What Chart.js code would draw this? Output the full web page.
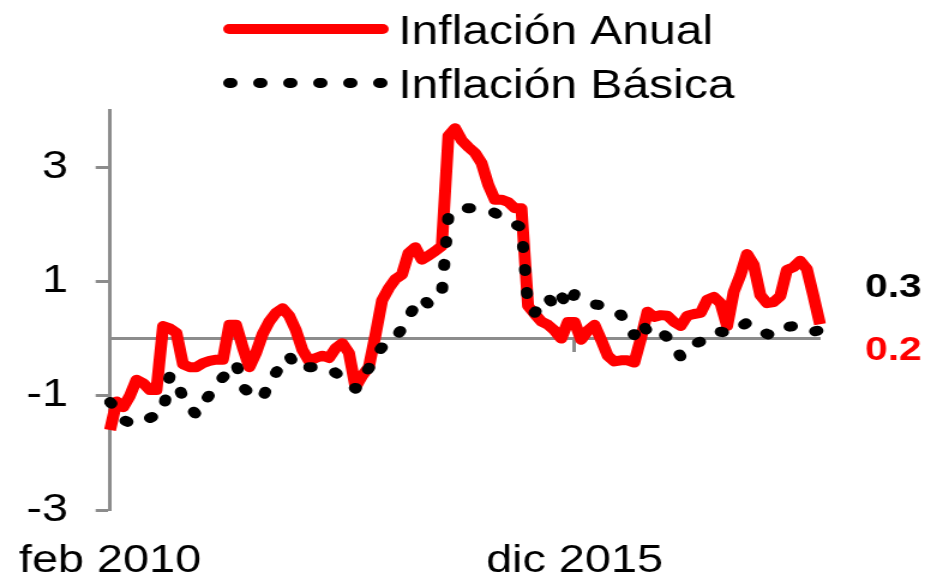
<!DOCTYPE html>
<html>
<head>
<meta charset="utf-8">
<script src="https://cdn.jsdelivr.net/npm/chart.js@4.4.1/dist/chart.umd.min.js"></script>
<style>
html, body { margin: 0; padding: 0; background: #fff; overflow: hidden; }
/* the reference is stretched sideways, so the canvas is drawn narrower and scaled */
#wrap { position: absolute; left: 0; top: 0; width: 791px; height: 578px; transform: scaleX(1.19975); transform-origin: 0 0; }
</style>
</head>
<body>
<div id="wrap"><canvas id="chart"></canvas></div>
<script>
var monthNames = ['ene', 'feb', 'mar', 'abr', 'may', 'jun', 'jul', 'ago', 'sep', 'oct', 'nov', 'dic'];
var firstYear = 2010;
var firstMonth = 1; // feb
var nMonths = 108;  // feb 2010 - ene 2019

var labels = [];
for (var i = 0; i < nMonths; i++) {
    var m = firstMonth + i;
    labels.push(monthNames[m % 12] + ' ' + (firstYear + Math.floor(m / 12)));
}

var anual = [
    -1.6, -1.1, -1.2, -1.0, -0.72, -0.78, -0.9, -0.9, 0.22, 0.18,
    0.1, -0.45, -0.5, -0.5, -0.43, -0.39, -0.37, -0.37, 0.24, 0.24,
    -0.15, -0.5, -0.25, 0.08, 0.3, 0.45, 0.53, 0.4, 0.15, -0.2,
    -0.39, -0.34, -0.3, -0.34, -0.17, -0.08, -0.25, -0.85, -0.65, -0.5,
    0.06, 0.67, 0.88, 1.04, 1.12, 1.5, 1.6, 1.38, 1.45, 1.53,
    1.62, 3.55, 3.68, 3.47, 3.35, 3.25, 3.07, 2.69, 2.43, 2.43,
    2.39, 2.28, 2.28, 0.57, 0.43, 0.3, 0.24, 0.14, 0.0, 0.29,
    0.29, -0.02, 0.14, 0.24, -0.02, -0.3, -0.4, -0.38, -0.38, -0.42,
    0.0, 0.47, 0.38, 0.41, 0.4, 0.29, 0.22, 0.4, 0.43, 0.45,
    0.68, 0.73, 0.62, 0.22, 0.82, 1.11, 1.48, 1.29, 0.76, 0.62,
    0.64, 0.74, 1.2, 1.25, 1.36, 1.22, 0.75, 0.25
];
var basica = [
    -1.11, -1.25, -1.42, -1.48, -1.5, -1.46, -1.39, -1.34, -1.28, -0.65,
    -0.7, -1.05, -1.2, -1.33, -1.15, -0.98, -0.85, -0.68, -0.55, -0.43,
    -0.85, -0.95, -1.0, -1.05, -0.75, -0.6, -0.4, -0.3, -0.5, -0.55,
    -0.5, -0.5, -0.52, -0.52, -0.6, -0.68, -0.75, -0.88, -0.68, -0.52,
    -0.3, -0.15, -0.08, 0.0, 0.18, 0.38, 0.58, 0.72, 0.6, 0.72,
    0.8, 2.15, 2.25, 2.28, 2.28, 2.28, 2.28, 2.25, 2.2, 2.12,
    2.05, 2.0, 1.95, 0.55, 0.45, 0.62, 0.73, 0.55, 0.75, 0.55,
    0.78, 0.7, 0.65, 0.6, 0.58, 0.52, 0.45, 0.42, 0.2, 0.06,
    0.3, 0.12, 0.05, 0.12, 0.02, -0.1, -0.32, -0.2, -0.1, -0.05,
    -0.05, 0.05, 0.12, 0.1, 0.1, 0.2, 0.28, 0.25, 0.15, 0.08,
    0.05, 0.15, 0.2, 0.22, 0.15, 0.12, 0.12, 0.15
];

var yTicks = [-3, -1, 1, 3];
var xLabelIdx = [0, 70];
var lastBasica = '0.3';
var lastAnual = '0.2';

var axisGray = '#8c8c8c';
var fontFamily = '"Liberation Sans", Arial, sans-serif';

// legend and last values, drawn on top of the plot
var extras = {
    id: 'extras',
    afterDraw: function(chart) {
        var ctx = chart.ctx;
        var ds = chart.data.datasets;
        ctx.save();
        var rows = [
            { d: ds[0], y: 29, base: 44, dash: [] },
            { d: ds[1], y: 83, base: 98, dash: [2, 23] }
        ];
        rows.forEach(function(r) {
            ctx.beginPath();
            ctx.strokeStyle = r.d.borderColor;
            ctx.lineWidth = r.d.borderWidth;
            ctx.lineCap = 'round';
            ctx.setLineDash(r.dash);
            ctx.moveTo(191, r.y);
            ctx.lineTo(319, r.y);
            ctx.stroke();
            ctx.setLineDash([]);
            ctx.fillStyle = '#000';
            ctx.font = '40px ' + fontFamily;
            ctx.textBaseline = 'alphabetic';
            ctx.textAlign = 'left';
            ctx.fillText(r.d.label, 332, r.base);
        });

        ctx.font = 'bold 34px ' + fontFamily;
        ctx.fillStyle = ds[1].borderColor;
        ctx.fillText(lastBasica, 721, 297);
        ctx.fillStyle = ds[0].borderColor;
        ctx.fillText(lastAnual, 721, 360);
        ctx.restore();
    }
};

var ctx = document.getElementById('chart').getContext('2d');
window.inflChart = new Chart(ctx, {
    type: 'line',
    data: {
        labels: labels,
        datasets: [{
            label: 'Inflación Anual',
            data: anual,
            borderColor: '#ff0000',
            borderWidth: 10,
            borderJoinStyle: 'round',
            pointRadius: 0,
            tension: 0,
            fill: false,
            order: 2
        }, {
            label: 'Inflación Básica',
            data: basica,
            borderColor: '#000000',
            borderWidth: 10,
            borderDash: [2, 21],
            borderCapStyle: 'round',
            borderJoinStyle: 'round',
            pointRadius: 0,
            tension: 0,
            fill: false,
            order: 1
        }]
    },
    options: {
        responsive: true,
        maintainAspectRatio: false,
        animation: false,
        layout: { padding: { top: 110, right: 107.5, bottom: 0, left: 0 } },
        plugins: {
            legend: { display: false },
            tooltip: { enabled: false }
        },
        scales: {
            x: {
                type: 'category',
                position: { y: 0 },
                offset: false,
                grid: {
                    display: true,
                    drawOnChartArea: false,
                    drawTicks: true,
                    tickLength: 12,
                    tickWidth: 3,
                    tickColor: function(c) {
                        return c.index === xLabelIdx[1] ? axisGray : 'rgba(0,0,0,0)';
                    }
                },
                border: { display: true, color: axisGray, width: 3 },
                ticks: { display: false, autoSkip: false }
            },
            x2: {
                type: 'category',
                position: 'bottom',
                offset: false,
                grid: { display: false, drawTicks: false },
                border: { display: false },
                ticks: {
                    autoSkip: false,
                    minRotation: 0,
                    maxRotation: 0,
                    padding: 28,
                    color: '#000',
                    font: { family: fontFamily, size: 39 },
                    callback: function(v, i) {
                        return xLabelIdx.indexOf(i) >= 0 ? labels[i] : '';
                    }
                },
                afterFit: function(s) {
                    s.height = 68;
                    s.paddingLeft = 0;
                    s.paddingRight = 0;
                }
            },
            y: {
                min: -3,
                max: 4,
                afterBuildTicks: function(s) {
                    s.ticks = yTicks.map(function(v) { return { value: v }; });
                },
                grid: {
                    drawOnChartArea: false,
                    drawTicks: true,
                    tickLength: 12,
                    tickWidth: 3,
                    tickColor: axisGray
                },
                border: { color: axisGray, width: 3 },
                ticks: {
                    padding: 23,
                    color: '#000',
                    font: { family: fontFamily, size: 39 },
                    callback: function(v) { return v; }
                },
                afterFit: function(s) {
                    s.width = 91.7;
                    s.paddingTop = 0;
                    s.paddingBottom = 0;
                }
            }
        }
    },
    plugins: [extras]
});
</script>
</body>
</html>
